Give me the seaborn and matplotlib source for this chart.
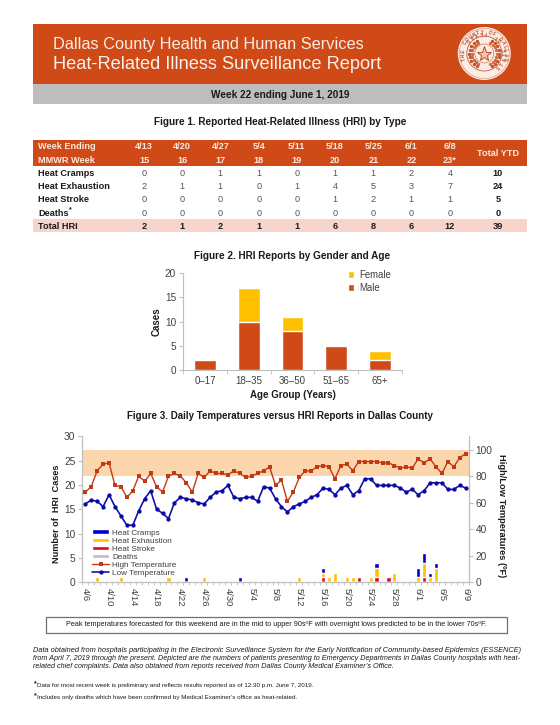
import numpy as np, pandas as pd
import matplotlib
matplotlib.use("Agg")
import matplotlib.pyplot as plt
from matplotlib.patches import Rectangle, Circle, Patch
from matplotlib.lines import Line2D
import seaborn as sns

# ---------- data ----------
weeks = ["4/13","4/20","4/27","5/4","5/11","5/18","5/25","6/1","6/8"]
mmwr = ["15","16","17","18","19","20","21","22","23*"]
cramps_wk = [0,0,1,1,0,1,1,2,4]
exhaust_wk = [2,1,1,0,1,4,5,3,7]
stroke_wk = [0,0,0,0,0,1,2,1,1]
deaths_wk = [0,0,0,0,0,0,0,0,0]
total_wk = [2,1,2,1,1,6,8,6,12]
ytd = [10,24,5,0,39]

age_groups = ["0–17","18–35","36–50","51–65","65+"]
male = [2,10,8,5,2]
female = [0,7,3,0,2]

high_temp = [68,72,84,89,90,73,72,64,69,80,76,82,72,68,80,82,80,75,68,82,79,84,82,82,81,84,82,79,80,82,84,87,73,77,61,68,79,84,84,87,88,87,78,88,89,84,91,91,91,91,90,90,88,86,87,86,93,90,93,87,82,91,87,94,97]
low_temp = [59,62,61,57,66,57,50,43,43,54,63,69,55,52,48,60,64,63,62,60,59,64,68,69,73,64,63,64,64,61,72,71,63,57,53,57,59,61,64,66,71,70,66,71,73,66,69,78,78,73,73,73,73,71,68,70,66,69,75,75,75,70,70,73,71]
day_index = list(range(65))
day_dates = [d.strftime("%-m/%-d") for d in pd.date_range("2019-04-06", "2019-06-09")]
cramps_days = {17:1,26:1,40:1,49:1,56:2,57:2,58:1,59:1}
exhaust_days = {2:1,6:1,14:1,20:1,36:1,40:1,41:1,42:2,44:1,45:1,48:1,49:2,52:2,56:1,57:3,58:1,59:3}
stroke_days = {40:1,46:1,49:1,51:1,57:1}
deaths_days = {}
band_range = (80,100)

OR="#D04A17"; GOLD="#FFC000"; PINK="#F8D5CC"; GREY="#BDBDBD"; TXT="#1a1a1a"; TICK="#404040"
W,H=560,725
sns.set_style("white")
plt.rcParams['font.family']=['Liberation Sans','DejaVu Sans']
fig=plt.figure(figsize=(W/100,H/100),dpi=100,facecolor="white")
page=fig.add_axes([0,0,1,1]); page.set_xlim(0,W); page.set_ylim(H,0); page.axis("off")
rend=fig.canvas.get_renderer()

def T(x,y,s,width=None,size=7,**kw):
    kw.setdefault("va","center"); kw.setdefault("color",TXT)
    t=page.text(x,y,s,fontsize=size,**kw)
    if width:
        w=t.get_window_extent(rend).width
        t.set_fontsize(size*width/w)
    return t

# banner
page.add_patch(Rectangle((33,24),494,60,fc=OR,ec="none"))
page.add_patch(Rectangle((33,84),494,20,fc=GREY,ec="none"))
T(53,44.5,"Dallas County Health and Human Services",311,12,color="#F9EDE6")
T(53,64,"Heat-Related Illness Surveillance Report",329,13,color="#FBF1EC")
T(280,94.5,"Week 22 ending June 1, 2019",139,7,ha="center",fontweight="bold")
T(280,121.5,"Figure 1. Reported Heat-Related Illness (HRI) by Type",255,7,ha="center",fontweight="bold")
# seal
cx,cy=484.3,53.5
SEAL="#B8502C"
page.add_patch(Circle((cx,cy),26.5,fc="#FBEDE6",ec="none"))
page.add_patch(Circle((cx,cy),25,fc="none",ec="#D98A70",lw=0.4))
page.add_patch(Circle((cx,cy),17.5,fc="#FBEDE6",ec="#C85A35",lw=0.6))
for ang in list(np.arange(-150,-15,15))+list(np.arange(30,165,15)):
    a=np.radians(ang)
    for r,col in ((15,"#C0502A"),(12.3,"#D06A45")):
        page.plot([cx+r*np.sin(a)],[cy-r*np.cos(a)],marker="o",ms=2.4,color=col,mec="none")
page.add_patch(Circle((cx,cy),9.5,fc="#FBEDE6",ec="#C85A35",lw=0.4,zorder=3))
page.plot([cx],[cy],marker="*",ms=11,mfc="#F2C3AE",mec="#B23A12",mew=0.6,zorder=4)
def arc(s,start,step,r,flip=False):
    for i,c in enumerate(s):
        a=np.radians(start+i*step)
        page.text(cx+r*np.sin(a),cy-r*np.cos(a),c,fontsize=3.3,color=SEAL,ha="center",va="center",
                  rotation=-np.degrees(a)+(180 if flip else 0),fontweight="bold")
arc("THE COUNTY OF DALLAS",-105,11,21.3)
arc("STATE OF TEXAS",137,-14.5,21.3,True)

# table
page.add_patch(Rectangle((33,140),494,26,fc=OR,ec="none"))
page.add_patch(Rectangle((33,219),494,13.3,fc=PINK,ec="none"))
colx=[144.3,182.3,220.3,258.7,296.7,335,373.3,411.3,450]; totx=498; FS=6.6
T(38,146.7,"Week Ending",size=FS,color="#FBE9DF",fontweight="bold")
T(38,160,"MMWR Week",size=FS,color="#FBE9DF",fontweight="bold")
T(totx,153,"Total YTD",size=FS,color="#FBE9DF",fontweight="bold",ha="center")
for x,a,b in zip(colx,weeks,mmwr):
    T(x,146.7,a,size=FS,color="#FBE9DF",fontweight="bold",ha="center")
    T(x,160,b,size=FS,color="#FBE9DF",fontweight="bold",ha="center")
rows=[("Heat Cramps",cramps_wk),("Heat Exhaustion",exhaust_wk),("Heat Stroke",stroke_wk),("Deaths",deaths_wk),("Total HRI",total_wk)]
for (name,vals),y,tot in zip(rows,[173,186,199.5,213,226],ytd):
    last=name=="Total HRI"
    T(38,y,name,size=FS,fontweight="bold")
    for x,v in zip(colx,vals):
        T(x,y,str(v),size=FS,ha="center",color=TXT if last else "#555555",fontweight="bold" if last else "normal")
    T(totx,y,str(tot),size=FS,ha="center",fontweight="bold")
T(68.5,210,"*",size=5,fontweight="bold")

# figure 2
T(292,256,"Figure 2. HRI Reports by Gender and Age",198,7,ha="center",fontweight="bold")
ax=fig.add_axes([183/W,1-370/H,(402-183)/W,(370-273)/H])
totals=np.array(male)+np.array(female)
sns.barplot(x=age_groups,y=totals,order=age_groups,color=GOLD,saturation=1,width=0.5,errorbar=None,ax=ax)
sns.barplot(x=age_groups,y=male,order=age_groups,color=OR,saturation=1,width=0.5,errorbar=None,ax=ax)
ax.set_ylim(0,20); ax.set_yticks([0,5,10,15,20]); ax.set_xlim(-0.5,4.5)
for s in ["top","right"]: ax.spines[s].set_visible(False)
for s in ["left","bottom"]: ax.spines[s].set_color("#BFBFBF"); ax.spines[s].set_linewidth(0.8)
ax.tick_params(axis="y",length=3,color="#BFBFBF",labelsize=7.2,labelcolor=TICK,pad=2,left=True)
ax.tick_params(axis="x",length=0,labelsize=7,labelcolor=TICK,pad=4)
ax.set_xticks(np.arange(-0.5,5),minor=True); ax.tick_params(axis="x",which="minor",length=3,color="#BFBFBF",bottom=True)
ax.set_xlabel("Age Group (Years)",fontsize=7,fontweight="bold",color=TXT,labelpad=3)
ax.set_ylabel("Cases",fontsize=7,fontweight="bold",color=TXT,labelpad=2)
ax.legend(handles=[Patch(fc=GOLD,label="Female"),Patch(fc=OR,label="Male")],frameon=False,fontsize=6.9,
          loc="upper right",bbox_to_anchor=((391-183)/219,(370-269.5)/97),handlelength=0.7,handleheight=0.8,handletextpad=0.5,labelspacing=0.35,labelcolor=TICK,borderpad=0,borderaxespad=0)

# figure 3
T(280,416,"Figure 3. Daily Temperatures versus HRI Reports in Dallas County",307,7,ha="center",fontweight="bold")
rect=[82.3/W,1-582.3/H,(468.7-82.3)/W,(582.3-436.3)/H]
a1=fig.add_axes(rect)
def arr(d): return np.array([d.get(i,0) for i in day_index])
c,e,s,dd=arr(cramps_days),arr(exhaust_days),arr(stroke_days),arr(deaths_days)
a2=a1.twinx()
a1.set_zorder(1); a2.set_zorder(2); a1.patch.set_visible(False)
band=a1.axhspan(band_range[0]*30/110,band_range[1]*30/110,color="#FBD6AC",lw=0,zorder=0)
kw=dict(x=day_dates,order=day_dates,saturation=1,width=0.7,errorbar=None,ax=a1)
sns.barplot(y=dd+s+e+c,color="#0000CC",**kw)
sns.barplot(y=dd+s+e,color=GOLD,**kw)
sns.barplot(y=dd+s,color="#DD0A1E",**kw)
sns.barplot(y=dd,color=GREY,**kw)
HI=dict(color="#C23A14",lw=1.0,marker="s",ms=2.5,mew=0)
LO=dict(color="#0A0AA8",lw=1.15,marker="o",ms=3.1,mew=0)
sns.lineplot(x=day_index,y=high_temp,ax=a2,errorbar=None,legend=False,**HI)
sns.lineplot(x=day_index,y=low_temp,ax=a2,errorbar=None,legend=False,**LO)
a1.set_xlim(-0.5,64.5); a1.set_ylim(0,30); a2.set_ylim(0,110)
a1.set_yticks(range(0,31,5)); a2.set_yticks(range(0,101,20))
a1.set_xticks(day_index[::4]); a1.set_xticklabels(day_dates[::4],rotation=270,ha="center",va="top")
a1.set_xticks(np.arange(-0.5,65),minor=True)
a1.tick_params(axis="x",which="minor",length=2.5,color="#BFBFBF",bottom=True,width=0.6)
a1.tick_params(axis="x",which="major",length=0,labelsize=6.8,labelcolor=TICK,pad=4)
a1.tick_params(axis="y",length=3,color="#BFBFBF",labelsize=7.3,labelcolor=TICK,pad=2,left=True)
a2.tick_params(axis="y",length=3,color="#BFBFBF",labelsize=7.3,labelcolor=TICK,pad=2,right=True)
a2.tick_params(axis="x",which="both",length=0)
for a in (a1,a2):
    for sp in a.spines.values(): sp.set_visible(False)
a1.spines["left"].set_visible(True); a1.spines["bottom"].set_visible(True)
a2.spines["right"].set_visible(True)
for sp in (a1.spines["left"],a1.spines["bottom"],a2.spines["right"]):
    sp.set_color("#BFBFBF"); sp.set_linewidth(0.9)
a1.set_xlabel(""); a2.set_xlabel("")
a1.set_ylabel("Number of  HRI  Cases",fontsize=6.6,fontweight="bold",color=TXT,labelpad=2,y=0.47)
a2.set_ylabel("High/Low Temperatures (ºF)",fontsize=6.7,fontweight="bold",color=TXT,rotation=270,labelpad=10,y=0.46)
h=[Patch(fc="#0000CC",label="Heat Cramps"),Patch(fc=GOLD,label="Heat Exhaustion"),Patch(fc="#DD0A1E",label="Heat Stroke"),Patch(fc=GREY,label="Deaths"),
   Line2D([],[],label="High Temperature",**HI),Line2D([],[],label="Low Temperature",**LO)]
a2.legend(handles=h,frameon=False,fontsize=5.9,loc="lower left",bbox_to_anchor=((92-82.3)/386.4,(582.3-577)/146),
          handlelength=2.1,handleheight=0.5,handletextpad=0.35,labelspacing=0.1,labelcolor=TICK,borderpad=0,borderaxespad=0)

# note + text
page.add_patch(Rectangle((45.7,616.7),461.3,16.6,fc="white",ec="#707070",lw=0.9))
T(276.5,625,"Peak temperatures forecasted for this weekend are in the mid to upper 90sºF with overnight lows predicted to be in the lower 70sºF.",426,6,ha="center")
T(33,650,"Data obtained from hospitals participating in the Electronic Surveillance System for the Early Notification of Community-based Epidemics (ESSENCE)",494,6,style="italic")
T(33,658.7,"from April 7, 2019 through the present. Depicted are the numbers of patients presenting to Emergency Departments in Dallas County hospitals with heat-",494,6,style="italic")
T(33,667,"related chief complaints. Data also obtained from reports received from Dallas County Medical Examiner’s Office.",365,6,style="italic")
T(33.5,684,"*",size=5,fontweight="bold"); T(37,685,"Data for most recent week is preliminary and reflects results reported as of 12:30 p.m. June 7, 2019.",284,5)
T(33.5,696,"*",size=5,fontweight="bold"); T(37,697,"Includes only deaths which have been confirmed by Medical Examiner’s office as heat-related.",264,5)
fig.savefig("out.png",dpi=100)
